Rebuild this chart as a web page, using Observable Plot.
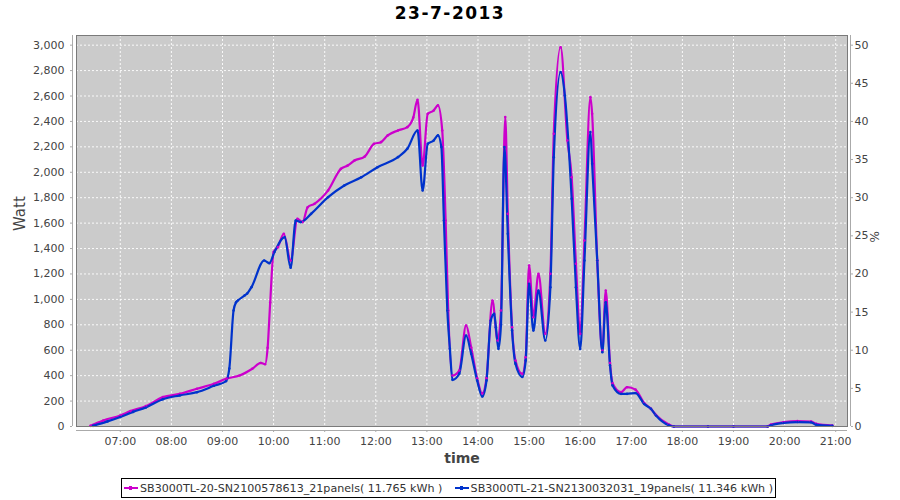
<!DOCTYPE html>
<html>
<head>
<meta charset="utf-8">
<script src="https://cdn.jsdelivr.net/npm/d3@7"></script>
<script src="https://cdn.jsdelivr.net/npm/@observablehq/plot@0.6"></script>
<style>
  html, body { margin: 0; padding: 0; background: #fff; }
  body { width: 900px; height: 500px; position: relative; overflow: hidden; font-family: "DejaVu Sans", sans-serif; }
  #title { position: absolute; top: 3px; left: 0; width: 900px; text-align: center; font-weight: bold; font-size: 17px; letter-spacing: 1.5px; color: #000; }
  #chart { position: absolute; top: 28px; left: 0; }
  #legend { position: absolute; left: 121px; top: 478px; width: 653px; height: 18px; border: 1px solid #000; display: flex; align-items: center; justify-content: space-between; font-size: 11.1px; color: #333; white-space: nowrap; overflow: hidden; }
  .item { display: flex; align-items: center; margin-left: 2px; margin-right: 2px; }
  .sw { position: relative; width: 14px; height: 2px; margin-right: 2px; }
  .sw i { position: absolute; left: 5px; top: -1px; width: 3px; height: 4px; }
</style>
</head>
<body>
<div id="title">23-7-2013</div>
<div id="chart"></div>
<div id="legend"></div>
<script>
// ---- data ----
const seriesNames = [
  "SB3000TL-20-SN2100578613_21panels( 11.765 kWh )",
  "SB3000TL-21-SN2130032031_19panels( 11.346 kWh )"
];
const seriesColors = ["#cc00cc", "#0033cc"];

const timesA = ["06:25","06:40","07:00","07:12","07:30","07:50","08:10","08:30","08:50","09:05","09:20","09:35","09:45","09:50","09:53","09:56","10:00","10:05","10:12","10:20","10:28","10:34","10:40","10:48","11:04","11:19","11:27","11:35","11:47","11:58","12:06","12:14","12:26","12:37","12:44","12:49","12:55","13:01","13:08","13:13","13:18","13:22","13:25","13:30","13:38","13:46","13:52","13:59","14:05","14:10","14:17","14:23","14:27","14:32","14:35","14:40","14:44","14:52","14:56","15:00","15:05","15:11","15:19","15:25","15:29","15:37","15:45","15:50","15:55","16:00","16:05","16:12","16:14","16:20","16:26","16:30","16:35","16:38","16:48","16:55","17:05","17:15","17:23","17:29","17:44","17:50","18:30","19:00","19:40","19:44","19:59","20:15","20:31","20:37","20:56"];
const wattA = [5,47,87,121,160,231,257,297,336,377,401,454,500,490,620,975,1372,1411,1516,1306,1634,1608,1725,1752,1857,2027,2053,2093,2124,2224,2237,2290,2329,2355,2430,2570,2053,2460,2486,2526,2329,1621,913,401,440,795,622,380,260,380,991,677,913,2434,1673,781,519,414,545,1267,860,1201,730,1201,2303,2984,2250,1961,1280,729,1463,2591,2460,1306,598,1070,500,340,270,309,290,185,140,90,16,0,0,0,0,16,34,42,39,21,8];

const timesB = ["06:28","06:45","07:00","07:15","07:30","07:50","08:10","08:30","08:50","09:04","09:08","09:13","09:16","09:18","09:26","09:29","09:34","09:49","09:55","10:01","10:13","10:20","10:26","10:32","10:44","11:04","11:23","11:43","12:02","12:26","12:37","12:49","12:55","13:01","13:08","13:13","13:17","13:20","13:24","13:27","13:30","13:38","13:46","13:52","13:59","14:05","14:10","14:15","14:19","14:21","14:24","14:27","14:31","14:35","14:40","14:44","14:52","14:56","15:00","15:05","15:11","15:19","15:25","15:29","15:37","15:42","15:50","15:55","16:00","16:05","16:12","16:14","16:20","16:26","16:30","16:35","16:38","16:48","16:55","17:05","17:15","17:23","17:29","17:44","17:50","18:30","19:00","19:40","19:44","19:59","20:15","20:31","20:37","20:56"];
const wattB = [5,40,75,115,150,215,245,270,320,356,456,913,978,991,1031,1046,1096,1306,1285,1372,1489,1249,1621,1608,1673,1804,1896,1961,2040,2119,2185,2329,1857,2224,2250,2290,2198,1621,913,611,367,415,716,572,362,236,362,834,886,781,611,800,2198,1516,755,493,390,519,1123,755,1070,677,1096,2119,2788,2604,1791,1096,610,1306,2316,2067,1306,585,978,480,323,257,257,263,178,139,87,10,0,0,0,0,10,28,35,33,15,5];

const wattTicks = [0,200,400,600,800,1000,1200,1400,1600,1800,2000,2200,2400,2600,2800,3000];
const pctTicks = [0,5,10,15,20,25,30,35,40,45,50];
const hourTicks = [7,8,9,10,11,12,13,14,15,16,17,18,19,20,21];

// ---- build table ----
const toH = s => { const [h, m] = s.split(":").map(Number); return h + m / 60; };
const rows = [
  ...timesA.map((t, i) => ({series: seriesNames[0], t: toH(t), w: wattA[i]})),
  ...timesB.map((t, i) => ({series: seriesNames[1], t: toH(t), w: wattB[i]}))
];
const wattPerPct = 3000 / 50;
const pad = n => String(n).padStart(2, "0");

const chart = Plot.plot({
  width: 900,
  height: 440,
  marginTop: 7,
  marginBottom: 42,
  marginLeft: 76,
  marginRight: 53,
  style: {fontFamily: "DejaVu Sans, sans-serif", fontSize: "11px", color: "#444", background: "transparent", overflow: "visible"},
  x: {domain: [6.143, 21.231]},
  y: {domain: [0, 3076]},
  color: {domain: seriesNames, range: seriesColors},
  marks: [
    Plot.frame({fill: "#cbcbcb", stroke: null}),
    Plot.gridY(wattTicks, {stroke: "#ffffff", strokeOpacity: 0.9, strokeDasharray: "2,2", strokeWidth: 1}),
    Plot.gridX(hourTicks, {stroke: "#ffffff", strokeOpacity: 0.9, strokeDasharray: "2,2", strokeWidth: 1}),
    Plot.line(rows, {x: "t", y: "w", z: "series", stroke: "series", strokeWidth: 2.2, curve: "monotone-x"}),
    Plot.dot(rows, {x: "t", y: "w", fill: "series", r: 1.3, stroke: null}),
    Plot.frame({stroke: "#7a7a7a", strokeWidth: 1}),
    // left axis
    Plot.ruleX([6.143], {dx: -4, stroke: "#aaaaaa"}),
    Plot.axisY({ticks: wattTicks, tickFormat: d3.format(","), tickSize: 2, tickPadding: 6, dx: -4, stroke: "#aaaaaa", fill: "#444", label: null}),
    // right axis (%)
    Plot.ruleX([21.231], {dx: 3, stroke: "#aaaaaa"}),
    Plot.axisY({anchor: "right", ticks: pctTicks.map(p => p * wattPerPct), tickFormat: d => String(d / wattPerPct), tickSize: 2, tickPadding: 2, dx: 3, stroke: "#aaaaaa", fill: "#444", label: null}),
    // bottom axis
    Plot.ruleY([0], {dy: 4, stroke: "#aaaaaa"}),
    Plot.axisX({ticks: hourTicks, tickFormat: h => pad(h) + ":00", tickSize: 2, tickPadding: 5, dy: 4, stroke: "#aaaaaa", fill: "#444", label: null}),
    // axis titles
    Plot.text(["Watt"], {frameAnchor: "left", dx: -56, rotate: -90, fontSize: 15, fill: "#444"}),
    Plot.text(["%"], {frameAnchor: "right", dx: 28, rotate: -90, fontSize: 12, fill: "#444"}),
    Plot.text(["time"], {frameAnchor: "bottom", dy: 36, fontSize: 14, fontWeight: "bold", fill: "#444"})
  ]
});
document.getElementById("chart").appendChild(chart);

// legend
const legend = document.getElementById("legend");
seriesNames.forEach((name, i) => {
  const item = document.createElement("div");
  item.className = "item";
  const sw = document.createElement("span");
  sw.className = "sw";
  sw.style.background = seriesColors[i];
  const mk = document.createElement("i");
  mk.style.background = seriesColors[i];
  sw.appendChild(mk);
  const label = document.createElement("span");
  label.textContent = name;
  item.appendChild(sw);
  item.appendChild(label);
  legend.appendChild(item);
});
</script>
</body>
</html>
